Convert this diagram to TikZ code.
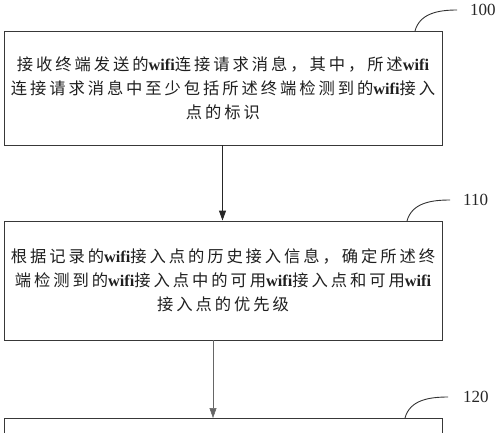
\documentclass[tikz,border=0pt]{standalone}
\usepackage{fontspec}
\usetikzlibrary{arrows.meta}
\setmainfont{Liberation Serif}
\newfontfamily\cjk[LetterSpace=18]{Noto Sans CJK SC}
\newfontfamily\latf{Liberation Serif}
\newcommand\wf{{\latf\bfseries wifi}}
\begin{document}
\begin{tikzpicture}[x=1pt,y=-1pt,
  box/.style={draw=black!78,line width=0.9pt,minimum width=438pt,inner sep=0pt,
    align=center,text=black!88,font=\cjk\fontsize{16.3}{24}\selectfont},
  arr/.style={-{Triangle[length=10pt,width=7pt]},line width=1pt,draw=black!85},
  thinarr/.style={-{Triangle[length=10pt,width=7pt]},line width=0.5pt,draw=black!60},
  lbl/.style={font=\fontsize{17}{18}\selectfont,anchor=west,inner sep=0pt,text=black!85},
  lead/.style={line width=0.9pt,draw=black!80}]
\useasboundingbox (0,0) rectangle (500,432);
\clip (0,0) rectangle (500,432);
\node[box,minimum height=114pt] (b1) at (223,88)
  {接收终端发送的\wf 连接请求消息，其中，所述\wf\\
   连接请求消息中至少包括所述终端检测到的\wf 接入\\
   点的标识};
\node[box,minimum height=119pt] (b2) at (223,280.5)
  {根据记录的\wf 接入点的历史接入信息，确定所述终\\
   端检测到的\wf 接入点中的可用\wf 接入点和可用\wf\\
   接入点的优先级};
\node[box,minimum height=60pt,anchor=north] (b3) at (223.5,418) {};
\coordinate (a2x) at (213,0);
\draw[arr] (b1.south -| 222.5,0) -- (b2.north -| 222.5,0);
\draw[thinarr] (b2.south -| a2x) -- (b3.north -| a2x);
\node[lbl] (l100) at (470,10) {100};
\node[lbl] (l110) at (463,200) {110};
\node[lbl] (l120) at (463,397) {120};
\coordinate (s1) at (415,31); \coordinate (e1) at (457,10);
\coordinate (s2) at (407,221); \coordinate (e2) at (450,200);
\coordinate (s3) at (405,418); \coordinate (e3) at (448,397);
\draw[lead] (s1) to[out=75,in=180] (e1);
\draw[lead] (s2) to[out=75,in=180] (e2);
\draw[lead] (s3) to[out=75,in=180] (e3);
\end{tikzpicture}
\end{document}
